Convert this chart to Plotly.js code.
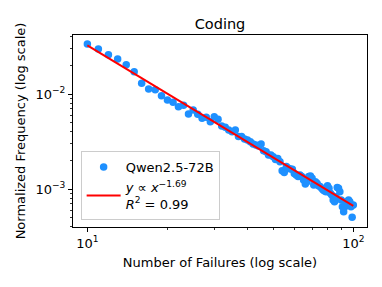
<!DOCTYPE html>
<html><head><meta charset="utf-8">
<script src="https://cdn.plot.ly/plotly-3.0.1.min.js"></script>
<style>html,body{margin:0;padding:0;background:#fff}#chart{width:382px;height:287px}</style>
</head><body><div id="chart"></div>
<script>
const failures = [10,11,12,13,14,15,16,17,18,19,20,21,22,23,24,25,26,27,28,29,30,31,32,33,34,35,36,37,38,39,40,41,42,43,44,45,46,47,48,49,50,51,52,53,54,55,56,57,58,59,60,61,62,63,64,65,66,67,68,69,70,71,72,73,74,75,76,77,78,79,80,81,82,83,84,85,86,87,88,89,90,91,92,93,94,95,96,97,98,99,100];
const frequency = [0.03359,0.02977,0.02594,0.02336,0.02036,0.01718,0.01295,0.01129,0.01111,0.00960,
0.00865,0.00817,0.00736,0.00760,0.00616,0.00679,0.00611,0.00554,0.00568,0.00511,
0.00577,0.00541,0.00460,0.00446,0.00418,0.00401,0.00418,0.00356,0.00356,0.00336,
0.00328,0.00315,0.00298,0.00290,0.00283,0.00298,0.00253,0.00247,0.00228,0.00228,
0.00219,0.00205,0.00210,0.00194,0.00156,0.00149,0.00172,0.00165,0.00162,0.00161,
0.00146,0.00140,0.00135,0.00140,0.00135,0.00124,0.00113,0.00119,0.00135,0.00137,
0.00130,0.00110,0.00119,0.00115,0.00108,0.00106,0.00102,0.000976,0.000953,0.000937,
0.00108,0.00102,0.000900,0.000865,0.000766,0.000736,0.000830,0.00104,0.00102,0.000937,
0.000766,0.000652,0.000577,0.000652,0.000736,0.000679,0.000766,0.000736,0.000652,0.000503,
0.000679];
const fitCoef = 1.593;
const fitExponent = -1.69;
const fitR2 = 0.99;
const seriesName = "Qwen2.5-72B";
const xTickVals = [10, 100];
const xTickText = ["10<sup>1</sup>", "10<sup>2</sup>"];
const yTickVals = [0.001, 0.01];
const yTickText = ["10<sup>−3</sup>", "10<sup>−2</sup>"];
const xMinor = [20,30,40,50,60,70,80,90];
const yMinor = [0.0004,0.0005,0.0006,0.0007,0.0008,0.0009,0.002,0.003,0.004,0.005,0.006,0.007,0.008,0.009,0.02,0.03,0.04];

const fitY = failures.map(x => fitCoef * Math.pow(x, fitExponent));
const font = "DejaVu Sans, sans-serif";

const traces = [
  {x: failures, y: frequency, type: "scatter", mode: "markers", name: seriesName,
   marker: {color: "#1E90FF", size: 7.5, line: {width: 0}}},
  {x: failures, y: fitY, type: "scatter", mode: "lines", name: "<i>y</i> ∝ <i>x</i><sup>−1.69</sup><br><i>R</i><sup>2</sup> = " + fitR2.toFixed(2),
   line: {color: "#FF0000", width: 2}}
];
const axisCommon = {
  type: "log", showgrid: false, zeroline: false, showline: true, linecolor: "#000", linewidth: 1,
  mirror: true, ticks: "outside", ticklen: 4, tickwidth: 1, tickcolor: "#000", tickmode: "array",
  tickfont: {family: font, size: 13, color: "#000"}
};
const layout = {
  width: 382, height: 287, margin: {l: 73, r: 15, t: 35, b: 60},
  paper_bgcolor: "#fff", plot_bgcolor: "#fff",
  title: {text: "Coding", font: {family: font, size: 14.5, color: "#000"}, x: 0.5, xref: "paper", y: 0.9, yanchor: "bottom"},
  xaxis: Object.assign({}, axisCommon, {range: [0.946, 2.0515], tickvals: xTickVals, ticktext: xTickText,
    minor: {tickmode: "array", tickvals: xMinor, ticklen: 2, tickwidth: 0.8, tickcolor: "#000", ticks: "outside"},
    title: {text: "Number of Failures (log scale)", font: {family: font, size: 13, color: "#000"}, standoff: 8}}),
  yaxis: Object.assign({}, axisCommon, {range: [-3.4, -1.379], tickvals: yTickVals, ticktext: yTickText,
    minor: {tickmode: "array", tickvals: yMinor, ticklen: 2, tickwidth: 0.8, tickcolor: "#000", ticks: "outside"},
    title: {text: "Normalized Frequency (log scale)", font: {family: font, size: 13, color: "#000"}, standoff: 6}}),
  showlegend: true,
  legend: {x: 0.026, y: 0.036, xanchor: "left", yanchor: "bottom", bgcolor: "rgba(255,255,255,0.8)",
    bordercolor: "#cccccc", borderwidth: 1, font: {family: font, size: 13, color: "#000"}, itemwidth: 34, tracegroupgap: 2}
};
Plotly.newPlot("chart", traces, layout, {displayModeBar: false, staticPlot: true});
</script></body></html>
